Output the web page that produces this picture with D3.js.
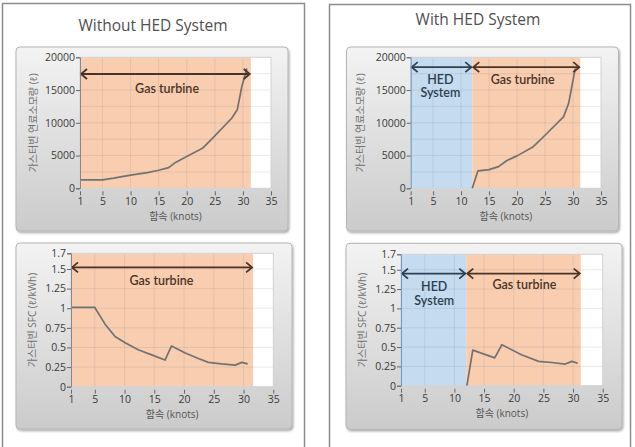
<!DOCTYPE html>
<html>
<head>
<meta charset="utf-8">
<script src="https://cdn.jsdelivr.net/npm/d3@7"></script>
<style>
body { margin: 0; background: #fff; }
svg { display: block; }
text { font-family: "Open Sans", "Noto Sans CJK KR", sans-serif; }
</style>
</head>
<body>
<div id="chart-area"></div>
<script>

/*****************************************/
/*   DATA                                */
/*****************************************/

var speedTicks = [1, 5, 10, 15, 20, 25, 30, 35];
var fuelTicks = [0, 5000, 10000, 15000, 20000];
var sfcTicks = [0, 0.25, 0.5, 0.75, 1, 1.25, 1.5, 1.7];

// [speed (knots), gas turbine fuel consumption (l)]
var fuelWithout = [[1, 1300], [5, 1300], [7, 1550], [10, 2000], [13, 2400], [15, 2750],
    [16.8, 3150], [18, 3950], [20, 4850], [22.8, 6100], [25, 8000], [28, 10700],
    [29, 12000], [29.8, 15500], [30.7, 18300]];
var fuelWith = [[12, 0], [13, 2650], [15, 2850], [16.7, 3300], [18.2, 4250], [20, 4950],
    [22.9, 6350], [25, 8100], [28.3, 10900], [29.2, 12900], [30.4, 18300]];

// [speed (knots), gas turbine SFC (l/kWh)]
var sfcWithout = [[1, 1.01], [5, 1.01], [6.7, 0.8], [8.4, 0.64], [10.1, 0.56], [12.3, 0.47],
    [15.1, 0.39], [16.8, 0.34], [17.9, 0.52], [20.2, 0.43], [22.4, 0.36], [24.1, 0.31],
    [26.3, 0.29], [28.6, 0.275], [29.7, 0.31], [30.7, 0.29]];
var sfcWith = [[12.1, 0], [13.1, 0.46], [16.8, 0.36], [18, 0.53], [21.3, 0.4], [24.2, 0.315],
    [26.4, 0.3], [28.7, 0.28], [29.8, 0.315], [30.8, 0.29]];

// operating ranges (knots)
var gasRangeWithoutTop = [1, 31.4];
var gasRangeWithoutBottom = [1, 31.6];
var hedRange = [1, 12];
var gasRangeWith = [12, 31.3];

var panelTitles = ["Without HED System", "With HED System"];
var fuelTitle = "가스터빈 연료소모량 (ℓ)";
var sfcTitle = "가스터빈 SFC (ℓ/kWh)";
var speedTitle = "함속 (knots)";


/*****************************************/
/*   DRAW                                */
/*****************************************/

var ORANGE = "#f8cdb0",
    BLUE = "#c4dbf0",
    GAS_COLOR = "#4b3326",
    HED_COLOR = "#2e4050";

var svg = d3.select("#chart-area").append("svg")
    .attr("width", 635)
    .attr("height", 447);

var defs = svg.append("defs");

var grad = defs.append("linearGradient")
    .attr("id", "panel-grad")
    .attr("x1", 0).attr("y1", 0).attr("x2", 0).attr("y2", 1);
grad.append("stop").attr("offset", "0%").attr("stop-color", "#f3f3f3");
grad.append("stop").attr("offset", "100%").attr("stop-color", "#cbcbcb");

var shadow = defs.append("filter")
    .attr("id", "shadow")
    .attr("x", "-5%").attr("y", "-5%").attr("width", "112%").attr("height", "112%");
shadow.append("feDropShadow")
    .attr("dx", 1).attr("dy", 1.5).attr("stdDeviation", 1.2)
    .attr("flood-color", "#000").attr("flood-opacity", 0.35);

// OUTER FRAMES
svg.append("rect")
    .attr("x", 2.5).attr("y", 3.5).attr("width", 302).attr("height", 460)
    .attr("fill", "#fff").attr("stroke", "#8c8c8c").attr("stroke-width", 1.5);
svg.append("rect")
    .attr("x", 329.5).attr("y", 4.5).attr("width", 301).attr("height", 460)
    .attr("fill", "#fff").attr("stroke", "#8c8c8c").attr("stroke-width", 1.5);

svg.append("text")
    .attr("x", 153).attr("y", 31)
    .attr("text-anchor", "middle")
    .style("font-size", "15.5px").style("fill", "#4f4f4f")
    .text(panelTitles[0]);
svg.append("text")
    .attr("x", 478).attr("y", 25)
    .attr("text-anchor", "middle")
    .style("font-size", "15.5px").style("fill", "#4f4f4f")
    .text(panelTitles[1]);


function drawChart(opt) {

    var p = opt.panel;
    svg.append("rect")
        .attr("x", p[0]).attr("y", p[1]).attr("width", p[2]).attr("height", p[3])
        .attr("rx", 4).attr("ry", 4)
        .attr("fill", "url(#panel-grad)")
        .attr("stroke", "#b5b5b5")
        .attr("filter", "url(#shadow)");

    var left = opt.plot[0], right = opt.plot[1], top = opt.plot[2], bottom = opt.plot[3];

    var x = d3.scaleLinear().domain([1, 35]).range([left, right]);
    var y = d3.scaleLinear().domain([0, opt.yTicks[opt.yTicks.length - 1]]).range([bottom, top]);

    var g = svg.append("g");

    // plot background
    g.append("rect")
        .attr("x", left).attr("y", top).attr("width", right - left).attr("height", bottom - top)
        .attr("fill", "#fff");

    // operating regions
    opt.regions.forEach(function(r) {
        g.append("rect")
            .attr("x", x(r.range[0])).attr("y", top)
            .attr("width", x(r.range[1]) - x(r.range[0]))
            .attr("height", bottom - top)
            .attr("fill", r.fill);
    });

    // grid
    g.selectAll(".vgrid")
        .data(speedTicks.slice(1, -1))
        .enter().append("line")
        .attr("x1", function(d) { return x(d); }).attr("x2", function(d) { return x(d); })
        .attr("y1", top).attr("y2", bottom)
        .attr("stroke", "#8a8a8a").attr("stroke-opacity", 0.18);

    g.selectAll(".hgrid")
        .data(d3.range(opt.gridStep, y.domain()[1], opt.gridStep))
        .enter().append("line")
        .attr("x1", left).attr("x2", right)
        .attr("y1", function(d) { return y(d); }).attr("y2", function(d) { return y(d); })
        .attr("stroke", "#8a8a8a").attr("stroke-opacity", 0.18);

    g.append("rect")
        .attr("x", left).attr("y", top).attr("width", right - left).attr("height", bottom - top)
        .attr("fill", "none").attr("stroke", "#d2d2d2");

    // line
    var line = d3.line()
        .x(function(d) { return x(d[0]); })
        .y(function(d) { return y(d[1]); });

    g.append("path")
        .datum(opt.series)
        .attr("d", line)
        .attr("fill", "none")
        .attr("stroke", "#727272")
        .attr("stroke-width", 1.7)
        .attr("stroke-linejoin", "round");

    // arrows
    opt.arrows.forEach(function(a) {
        var x0 = x(a.range[0]), x1 = x(a.range[1]), yy = y(a.y);
        g.append("line")
            .attr("x1", x0 + 1).attr("x2", x1 - 1).attr("y1", yy).attr("y2", yy)
            .attr("stroke", a.color).attr("stroke-width", 1.8);
        g.append("path")
            .attr("d", "M" + (x0 + 7) + "," + (yy - 5) + "L" + (x0 + 1) + "," + yy + "L" + (x0 + 7) + "," + (yy + 5))
            .attr("fill", "none").attr("stroke", a.color).attr("stroke-width", 1.8);
        g.append("path")
            .attr("d", "M" + (x1 - 7) + "," + (yy - 5) + "L" + (x1 - 1) + "," + yy + "L" + (x1 - 7) + "," + (yy + 5))
            .attr("fill", "none").attr("stroke", a.color).attr("stroke-width", 1.8);
    });

    // labels (one text element per line)
    opt.labels.forEach(function(l) {
        l.lines.forEach(function(s, i) {
            g.append("text")
                .attr("x", x(l.x))
                .attr("y", y(l.y) + i * 13.5)
                .attr("text-anchor", "middle")
                .style("font-family", "Lato, 'Open Sans', sans-serif")
                .style("font-size", "12.5px")
                .style("font-weight", "600")
                .style("fill", l.color)
                .text(s);
        });
    });

    // AXIS
    var xAxis = d3.axisBottom(x)
        .tickValues(speedTicks)
        .tickSize(4)
        .tickPadding(2)
        .tickFormat(function(d) { return d; });

    var yAxis = d3.axisLeft(y)
        .tickValues(opt.yTicks)
        .tickSize(4)
        .tickPadding(1)
        .tickFormat(function(d) { return d; });

    var xAxisGroup = svg.append("g")
        .attr("class", "x-axis axis")
        .attr("transform", "translate(0," + (bottom + 3) + ")")
        .call(xAxis);
    xAxisGroup.select(".domain").remove();

    var yAxisGroup = svg.append("g")
        .attr("class", "y-axis axis")
        .attr("transform", "translate(" + left + ",0)")
        .call(yAxis);
    yAxisGroup.select(".domain").attr("stroke", opt.axisColor);

    svg.selectAll(".axis text")
        .style("font-family", "'Open Sans', sans-serif")
        .style("font-size", "10.5px")
        .style("fill", "#3a3a3a");
    svg.selectAll(".axis .tick line").attr("stroke", "#666");

    // axis titles
    svg.append("text")
        .attr("transform", "translate(" + (left - opt.yTitleOffset) + "," + ((top + bottom) / 2) + ") rotate(-90)")
        .attr("text-anchor", "middle")
        .attr("dy", "0.35em")
        .style("font-size", "10px")
        .style("fill", "#707070")
        .text(opt.yTitle);

    svg.append("text")
        .attr("x", (left + right) / 2)
        .attr("y", bottom + 28)
        .attr("text-anchor", "middle")
        .attr("dy", "0.35em")
        .style("font-size", "10px")
        .style("fill", "#555")
        .text(speedTitle);
}


// Without HED - fuel
drawChart({
    panel: [16, 47, 272, 184],
    plot: [80, 271, 57.3, 188.3],
    yTicks: fuelTicks,
    gridStep: 2500,
    series: fuelWithout,
    regions: [{range: gasRangeWithoutTop, fill: ORANGE}],
    arrows: [{range: gasRangeWithoutTop, y: 17450, color: GAS_COLOR}],
    labels: [{x: 16.5, y: 14600, lines: ["Gas turbine"], color: GAS_COLOR}],
    yTitle: fuelTitle,
    yTitleOffset: 47,
    axisColor: "#888"
});

// With HED - fuel
drawChart({
    panel: [346.5, 47, 272, 184],
    plot: [410.7, 601, 57.3, 188.3],
    yTicks: fuelTicks,
    gridStep: 2500,
    series: fuelWith,
    regions: [{range: hedRange, fill: BLUE}, {range: gasRangeWith, fill: ORANGE}],
    arrows: [{range: hedRange, y: 18500, color: HED_COLOR}, {range: gasRangeWith, y: 18500, color: GAS_COLOR}],
    labels: [{x: 21, y: 16000, lines: ["Gas turbine"], color: GAS_COLOR},
             {x: 6.3, y: 16000, lines: ["HED", "System"], color: HED_COLOR}],
    yTitle: fuelTitle,
    yTitleOffset: 50,
    axisColor: "#6f97bf"
});

// Without HED - SFC
drawChart({
    panel: [16, 243, 276, 186],
    plot: [71, 273.3, 253.3, 386.7],
    yTicks: sfcTicks,
    gridStep: 0.25,
    series: sfcWithout,
    regions: [{range: gasRangeWithoutBottom, fill: ORANGE}],
    arrows: [{range: gasRangeWithoutBottom, y: 1.52, color: GAS_COLOR}],
    labels: [{x: 16.2, y: 1.3, lines: ["Gas turbine"], color: GAS_COLOR}],
    yTitle: sfcTitle,
    yTitleOffset: 39,
    axisColor: "#888"
});

// With HED - SFC
drawChart({
    panel: [346, 243.3, 276, 186],
    plot: [401, 602.7, 254.3, 385.7],
    yTicks: sfcTicks,
    gridStep: 0.25,
    series: sfcWith,
    regions: [{range: hedRange, fill: BLUE}, {range: gasRangeWith, fill: ORANGE}],
    arrows: [{range: hedRange, y: 1.45, color: HED_COLOR}, {range: gasRangeWith, y: 1.45, color: GAS_COLOR}],
    labels: [{x: 21.8, y: 1.25, lines: ["Gas turbine"], color: GAS_COLOR},
             {x: 6.6, y: 1.22, lines: ["HED", "System"], color: HED_COLOR}],
    yTitle: sfcTitle,
    yTitleOffset: 39,
    axisColor: "#6f97bf"
});

</script>
</body>
</html>
